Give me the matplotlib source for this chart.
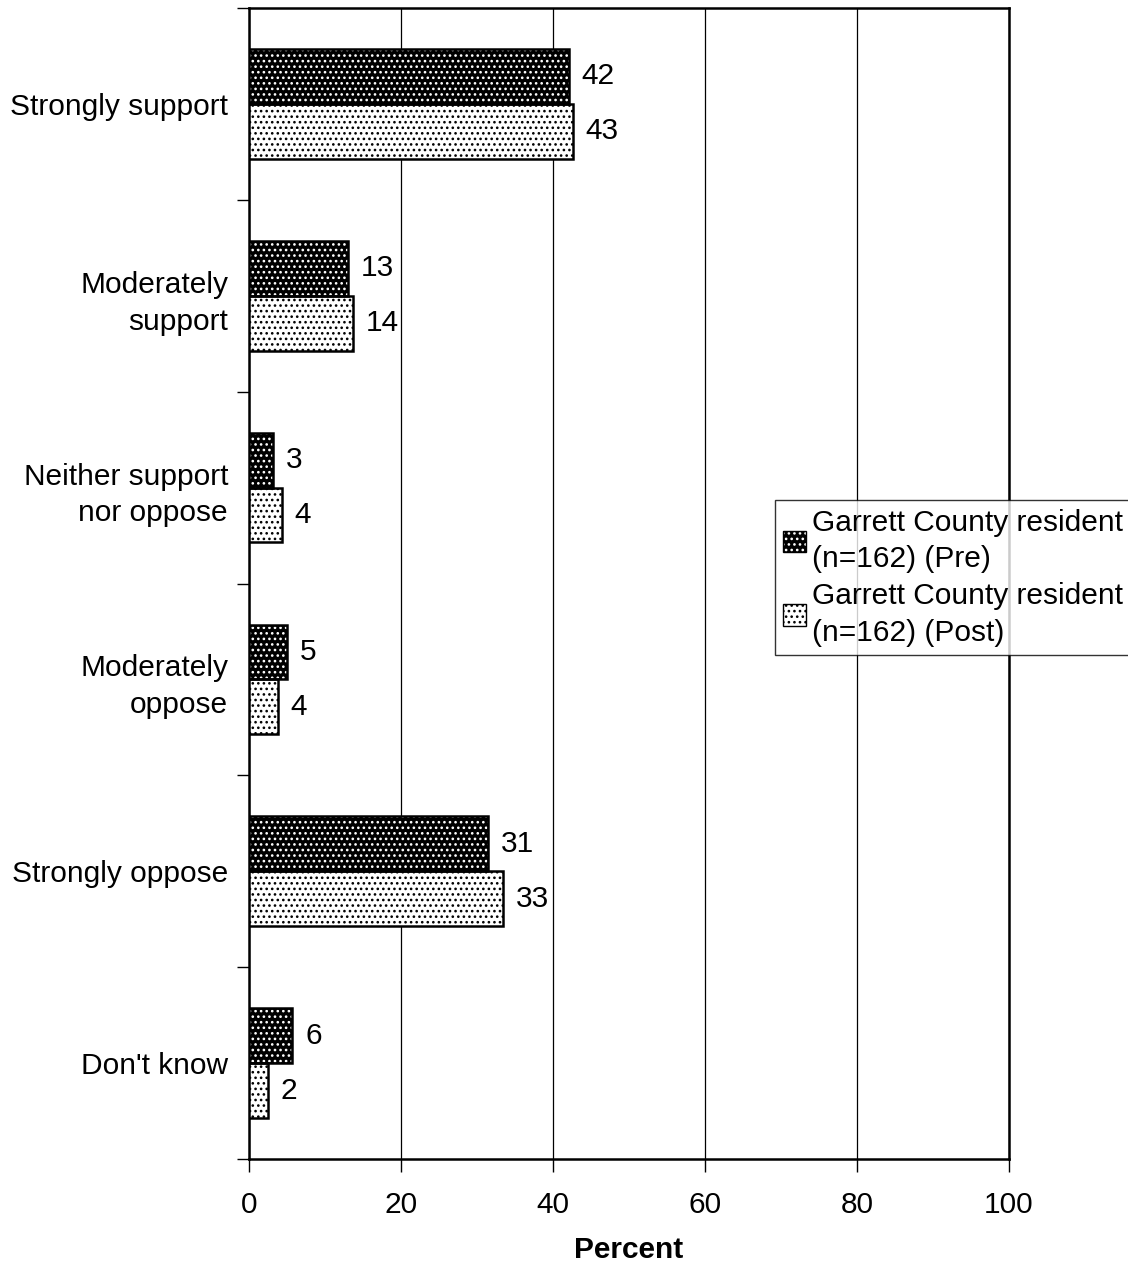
import matplotlib
matplotlib.use("Agg")
import matplotlib.pyplot as plt
from matplotlib.patches import Patch
import numpy as np

plt.rcParams['font.family'] = ['Liberation Sans', 'DejaVu Sans']
plt.rcParams['hatch.linewidth'] = 1.1

categories = ["Strongly support", "Moderately\nsupport", "Neither support\nnor oppose",
              "Moderately\noppose", "Strongly oppose", "Don't know"]
pre = [42.1, 13.0, 3.2, 5.0, 31.5, 5.7]
post = [42.6, 13.7, 4.3, 3.8, 33.4, 2.5]
pre_labels = [42, 13, 3, 5, 31, 6]
post_labels = [43, 14, 4, 4, 33, 2]
series_names = ["Garrett County resident\n(n=162) (Pre)", "Garrett County resident\n(n=162) (Post)"]

fig = plt.figure(figsize=(11.28, 12.63), dpi=100)
ax = fig.add_axes([0.2207, 0.0823, 0.6738, 0.9114])

n = len(categories)
centers = np.arange(n)[::-1] + 0.5
h = 0.286
off = 0.143
fs = 21.5
hatch = '...'

def draw(ys, vals, face, hatchcol):
    ax.barh(ys, vals, height=h, color=face, edgecolor=hatchcol, hatch=hatch, linewidth=0, zorder=3)
    ax.barh(ys, vals, height=h, fill=False, edgecolor='black', linewidth=1.8, zorder=4)

draw(centers + off, pre, 'black', 'white')
draw(centers - off, post, 'white', 'black')

for y, v, lab in zip(centers + off, pre, pre_labels):
    ax.text(v + 1.7, y, str(lab), va='center', ha='left', fontsize=fs)
for y, v, lab in zip(centers - off, post, post_labels):
    ax.text(v + 1.7, y, str(lab), va='center', ha='left', fontsize=fs)

ax.set_xlim(0, 100)
ax.set_ylim(0, n)
ax.set_xticks([0, 20, 40, 60, 80, 100])
ax.tick_params(axis='x', labelsize=fs, length=9, width=1, pad=14, direction='out')
ax.set_yticks(np.arange(n + 1))
ax.set_yticklabels([])
ax.tick_params(axis='y', which='major', length=9, width=1, direction='out')
ax.set_yticks(centers, minor=True)
ax.set_yticklabels(categories, minor=True, fontsize=fs, linespacing=1.4)
ax.tick_params(axis='y', which='minor', length=0, pad=15)
ax.xaxis.grid(True, color='black', linewidth=0.9, zorder=0)
ax.set_axisbelow(True)
for s in ax.spines.values():
    s.set_linewidth(1.8)
ax.set_xlabel("Percent", fontsize=fs, fontweight='bold', labelpad=12)

handles = [(Patch(facecolor='black', edgecolor='white', hatch=hatch, linewidth=0),
            Patch(fill=False, edgecolor='black', linewidth=1.0)),
           (Patch(facecolor='white', edgecolor='black', hatch=hatch, linewidth=0),
            Patch(fill=False, edgecolor='black', linewidth=1.0))]
leg = fig.legend(handles, series_names, loc='upper left', bbox_to_anchor=(0.687, 0.604),
                 fontsize=fs, frameon=True, fancybox=False, edgecolor='black',
                 handlelength=0.75, handleheight=0.75, handletextpad=0.22,
                 borderpad=0.28, labelspacing=0.3, borderaxespad=0)
leg.get_frame().set_linewidth(1.0)
for t in leg.get_texts():
    t.set_linespacing(1.4)

fig.savefig("out.png", dpi=100)
